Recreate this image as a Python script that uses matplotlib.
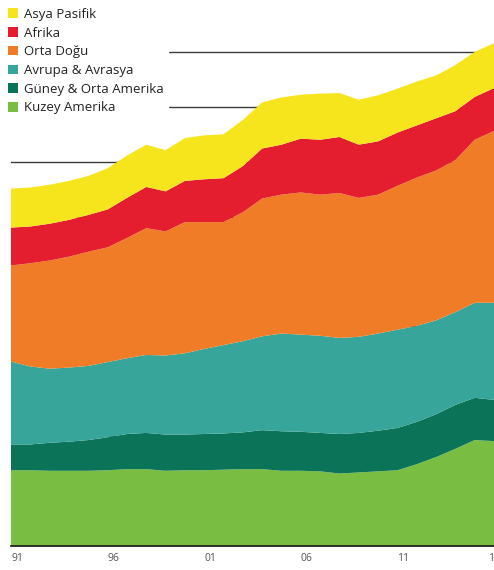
import matplotlib.pyplot as plt
import numpy as np

years = np.arange(1991, 2017)

# million barrels per day, by region
kuzey_amerika = [13.8, 13.8, 13.7, 13.7, 13.7, 13.8, 14.0, 14.0, 13.7, 13.8,
                 13.8, 13.9, 14.0, 14.0, 13.7, 13.7, 13.6, 13.2, 13.4, 13.6,
                 13.8, 14.9, 16.2, 17.7, 19.3, 19.1]
guney_orta_amerika = [4.7, 4.7, 5.1, 5.3, 5.6, 6.0, 6.4, 6.6, 6.6, 6.5,
                      6.6, 6.6, 6.7, 7.1, 7.2, 7.1, 7.0, 7.2, 7.2, 7.4,
                      7.7, 7.7, 7.8, 8.0, 7.7, 7.5]
avrupa_avrasya = [15.1, 14.2, 13.5, 13.5, 13.5, 13.7, 13.8, 14.2, 14.4, 14.8,
                  15.5, 16.1, 16.6, 17.1, 17.8, 17.7, 17.7, 17.5, 17.5, 17.7,
                  17.9, 17.5, 17.1, 16.9, 17.3, 17.7]
orta_dogu = [17.5, 18.8, 19.7, 20.2, 20.8, 20.9, 21.9, 23.1, 22.6, 23.9,
             23.1, 22.4, 23.5, 25.1, 25.3, 25.9, 25.7, 26.4, 25.3, 25.3,
             26.2, 27.0, 27.3, 27.7, 29.7, 31.3]
afrika = [6.9, 6.7, 6.7, 6.7, 6.7, 6.9, 7.3, 7.5, 7.3, 7.5,
          7.8, 8.0, 8.4, 9.1, 9.1, 9.8, 10.0, 10.2, 9.7, 9.7,
          9.7, 9.5, 9.5, 8.9, 7.8, 7.8]
asya_pasifik = [7.1, 7.1, 7.1, 7.1, 7.1, 7.5, 7.7, 7.7, 7.5, 7.8,
                8.0, 8.0, 8.4, 8.4, 8.6, 8.0, 8.4, 8.0, 8.2, 8.4,
                8.0, 8.0, 7.8, 8.4, 8.2, 8.2]

series = [kuzey_amerika, guney_orta_amerika, avrupa_avrasya,
          orta_dogu, afrika, asya_pasifik]
labels = ["Kuzey Amerika", "Güney & Orta Amerika", "Avrupa & Avrasya",
          "Orta Doğu", "Afrika", "Asya Pasifik"]
colors = ["#79be43", "#0b7458", "#37a59a", "#f17c27", "#e41e2e", "#f6e51d"]

tick_years = [1991, 1996, 2001, 2006, 2011, 2016]
tick_labels = ["91", "96", "01", "06", "11", "16"]

plt.rcParams["font.family"] = ["Open Sans", "DejaVu Sans"]

fig = plt.figure(figsize=(4.94, 5.70), dpi=100)
ax = fig.add_axes([11 / 494, 24 / 570, 1 - 11 / 494, 546 / 570])

polys = ax.stackplot(years, series, colors=colors, labels=labels,
                     linewidth=0, zorder=2)

ax.set_xlim(1991, 2016)
ax.set_ylim(0, 546 / 5.49)
ax.set_yticks(np.arange(10, 100, 10))
ax.set_axisbelow(True)
ax.yaxis.grid(True, color="#3a3a3a", linewidth=1.0)
ax.tick_params(axis="y", left=False, labelleft=False)

ax.set_xticks(tick_years)
ax.set_xticklabels(tick_labels, fontsize=7.5, color="#555555")
ax.tick_params(axis="x", length=0, pad=5)
for lab in ax.get_xticklabels()[:-1]:
    lab.set_ha("left")

for side in ["top", "right", "left"]:
    ax.spines[side].set_visible(False)
ax.spines["bottom"].set_color("#222222")
ax.spines["bottom"].set_linewidth(1.3)
ax.spines["bottom"].set_zorder(3)

handles = polys[::-1]
leg = fig.legend(handles, labels[::-1], loc="upper left",
                 bbox_to_anchor=(0.0, 1.0), fontsize=9.5,
                 frameon=True, fancybox=False, framealpha=1,
                 facecolor="white", edgecolor="white",
                 handlelength=0.75, handleheight=0.75, handletextpad=0.5,
                 labelspacing=0.43, borderpad=0.3, borderaxespad=0.3)
for t in leg.get_texts():
    t.set_color("#222222")

fig.savefig("out.png", dpi=100)
